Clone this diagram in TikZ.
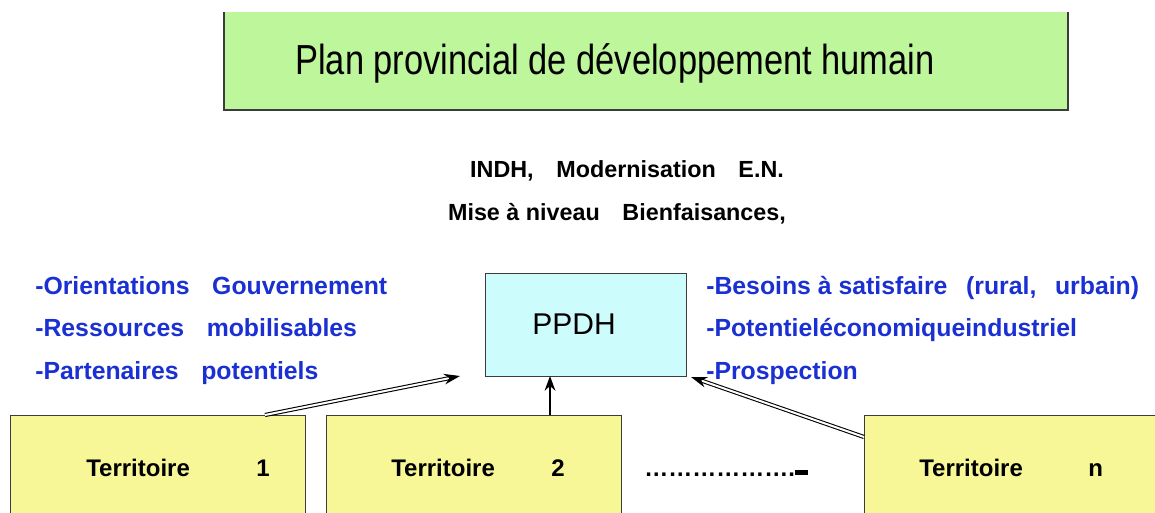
\documentclass[tikz,border=0pt]{standalone}
\usepackage{fontspec}
\setmainfont{Liberation Sans}
\usetikzlibrary{arrows.meta,calc}
\definecolor{titlegreen}{RGB}{190,246,156}
\definecolor{ppdhcyan}{RGB}{204,252,252}
\definecolor{terryellow}{RGB}{247,247,152}
\definecolor{bluetext}{RGB}{26,48,210}
\definecolor{framegray}{RGB}{60,60,60}
\begin{document}
\begin{tikzpicture}[x=0.75pt,y=-0.75pt,
  terrbox/.style={draw=framegray,line width=0.8pt,fill=terryellow,anchor=north west,inner sep=0pt},
  bluelbl/.style={anchor=base west,text=bluetext,font=\fontsize{18.6pt}{20pt}\selectfont\bfseries,inner sep=0pt},
  blacklbl/.style={anchor=base,font=\fontsize{17.5pt}{19pt}\selectfont\bfseries,inner sep=0pt},
  terrlbl/.style={anchor=base west,font=\fontsize{18pt}{19pt}\selectfont\bfseries,inner sep=0pt},
  dblarrow/.style={double=white,double distance=1.5pt,line width=0.8pt,-{Stealth[length=12pt,width=8pt]}},
  plainarrow/.style={line width=2pt,-{Stealth[length=11pt,width=8pt]}}
]
\useasboundingbox (0,0) rectangle (1155,513);
% title box
\fill[titlegreen] (224,12) rectangle (1068,110);
\draw[framegray,line width=0.8pt] (224,12) -- (224,110) -- (1068,110) -- (1068,12);
\node[anchor=base,inner sep=0pt,font=\fontsize{31.5pt}{34pt}\selectfont] (title) at (615,75)
  {\scalebox{0.82}[1]{Plan provincial de développement humain}};
% middle texts
\node[blacklbl] (l1) at (627,178) {INDH,\hspace{17pt}Modernisation\hspace{17pt}E.N.};
\node[blacklbl] (l2) at (617,221) {Mise à niveau\hspace{17pt}Bienfaisances,};
% PPDH
\node[draw=framegray,line width=0.8pt,fill=ppdhcyan,minimum width=201*0.75pt,minimum height=103*0.75pt,inner sep=0pt,anchor=north west] (ppdh) at (485,273) {};
\node[anchor=base,inner sep=0pt,font=\fontsize{22.5pt}{24pt}\selectfont] (ppdhlbl) at (574,334) {PPDH};
% left blue list
\node[bluelbl] (o1) at (35,294) {-Orientations\hspace{17pt}Gouvernement};
\node[bluelbl] (o2) at (35,336) {-Ressources\hspace{17pt}mobilisables};
\node[bluelbl] (o3) at (35,379) {-Partenaires\hspace{17pt}potentiels};
% right blue list
\node[bluelbl] (r1) at (706,294) {-Besoins à satisfaire\hspace{14pt}(rural,\hspace{14pt}urbain)};
\node[bluelbl] (r2) at (706,336) {-Potentieléconomiqueindustriel};
\node[bluelbl] (r3) at (706,379) {-Prospection};
% territory boxes
\node[terrbox,minimum width=295*0.75pt,minimum height=110*0.75pt] (t1) at (10,415) {};
\node[terrbox,minimum width=295*0.75pt,minimum height=110*0.75pt] (t2) at (326,415) {};
\node[terrbox,minimum width=300*0.75pt,minimum height=110*0.75pt] (tn) at (864,415) {};
\node[terrlbl] (t1a) at (86,476) {Territoire};
\node[terrlbl] (t1b) at (256,476) {1};
\node[terrlbl] (t2a) at (391,476) {Territoire};
\node[terrlbl] (t2b) at (551,476) {2};
\node[terrlbl] (tna) at (919,476) {Territoire};
\node[terrlbl] (tnb) at (1088,476) {n};
\node[terrlbl] (dots) at (644,476) {……………….\rule[0.03em]{0.55em}{0.2em}};
% arrows
\coordinate (s1) at (265,415);
\coordinate (e1) at (460,376);
\coordinate (s2) at (550,415);
\coordinate (e2) at (550,376);
\coordinate (s3) at (864,437);
\coordinate (e3) at (691,377);
\draw[dblarrow] (s1) -- (e1);
\draw[plainarrow] (s2) -- (e2);
\draw[dblarrow] (s3) -- (e3);
\end{tikzpicture}
\end{document}
